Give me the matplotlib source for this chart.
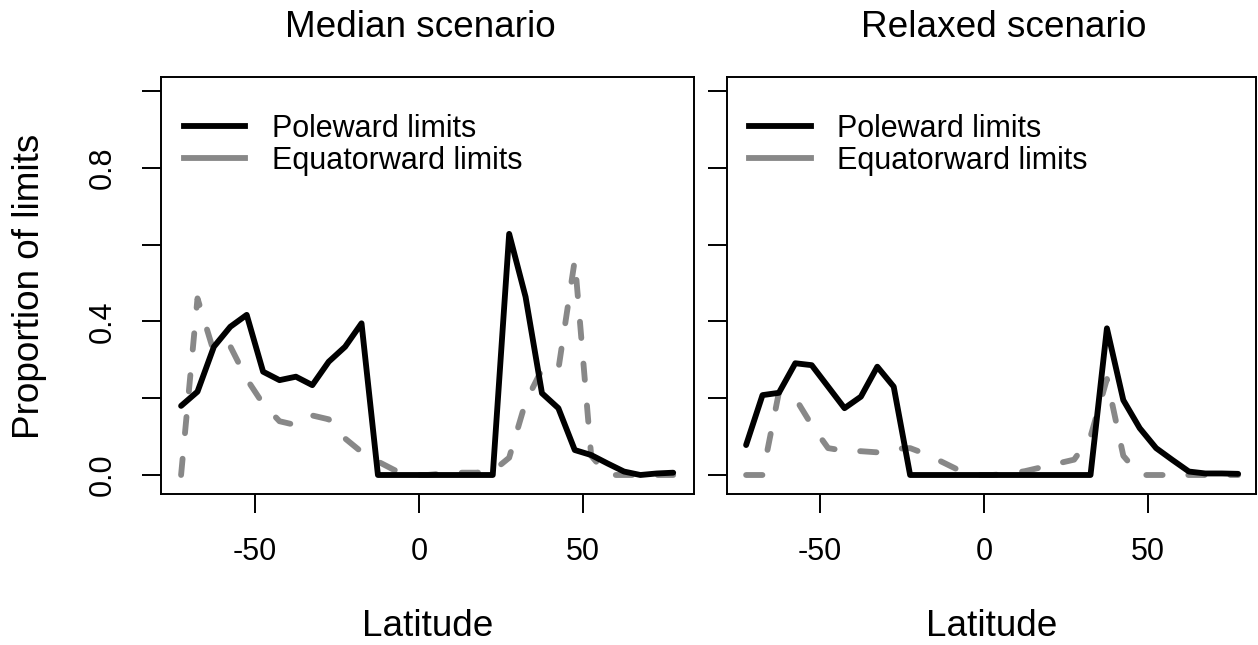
import matplotlib
matplotlib.use("Agg")
import matplotlib.pyplot as plt
from matplotlib.lines import Line2D

plt.rcParams['font.family'] = ['Liberation Sans', 'DejaVu Sans']
plt.rcParams['axes.unicode_minus'] = False

# latitude band centres
latitude = [-72.5, -67.5, -62.5, -57.5, -52.5, -47.5, -42.5, -37.5, -32.5, -27.5,
            -22.5, -17.5, -12.5, -7.5, -2.5, 2.5, 7.5, 12.5, 17.5, 22.5,
            27.5, 32.5, 37.5, 42.5, 47.5, 52.5, 57.5, 62.5, 67.5, 72.5, 77.5]

# median scenario
median_poleward = [0.18, 0.217, 0.334, 0.386, 0.417, 0.269, 0.247, 0.256, 0.234, 0.295,
                   0.334, 0.395, 0.0, 0.0, 0.0, 0.0, 0.0, 0.0, 0.0, 0.0,
                   0.628, 0.464, 0.213, 0.174, 0.065, 0.052, 0.03, 0.009, 0.0, 0.004, 0.006]
median_equatorward = [0.0, 0.46, 0.32, 0.335, 0.25, 0.185, 0.14, 0.13, 0.155, 0.145,
                      0.095, 0.06, 0.035, 0.013, 0.0, 0.0, 0.004, 0.006, 0.006, 0.01,
                      0.045, 0.19, 0.275, 0.275, 0.56, 0.05, 0.0, 0.0, 0.0, 0.0, 0.0]

# relaxed scenario
relaxed_poleward = [0.078, 0.208, 0.214, 0.291, 0.286, 0.23, 0.174, 0.204, 0.282, 0.23,
                    0.0, 0.0, 0.0, 0.0, 0.0, 0.0, 0.0, 0.0, 0.0, 0.0,
                    0.0, 0.0, 0.382, 0.195, 0.122, 0.07, 0.039, 0.009, 0.004, 0.004, 0.003]
relaxed_equatorward = [0.0, 0.0, 0.215, 0.2, 0.13, 0.07, 0.063, 0.062, 0.059, 0.068,
                       0.07, 0.054, 0.033, 0.012, 0.0, 0.0, 0.003, 0.01, 0.02, 0.03,
                       0.04, 0.1, 0.25, 0.05, 0.0, 0.0, 0.0, 0.0, 0.0, 0.0, 0.0]

titles = ["Median scenario", "Relaxed scenario"]
legend_labels = ["Poleward limits", "Equatorward limits"]
GRAY = '#888888'
LW = 4.2

fig = plt.figure(figsize=(12.58, 6.45), dpi=100)
ax1 = fig.add_axes([0.1283, 0.2335, 0.423, 0.6465])
ax2 = fig.add_axes([0.5777, 0.2335, 0.4211, 0.6465])

panels = [(ax1, median_poleward, median_equatorward, (-78.5, 83.7)),
          (ax2, relaxed_poleward, relaxed_equatorward, (-78.4, 83.1))]

for i, (ax, pole, equ, xl) in enumerate(panels):
    ax.plot(latitude, equ, color=GRAY, lw=LW, linestyle=(0, (2.8, 4.4)),
            dash_capstyle='round', solid_joinstyle='round')
    ax.plot(latitude, pole, color='black', lw=LW,
            solid_capstyle='round', solid_joinstyle='round')
    ax.set_xlim(*xl)
    ax.set_ylim(-0.0505, 1.0354)
    ax.set_xticks([-50, 0, 50])
    ax.set_xticklabels(['-50', '0', '50'])
    ax.set_yticks([0, 0.2, 0.4, 0.6, 0.8, 1.0])
    if i == 0:
        ax.set_yticklabels(['0.0', '', '0.4', '', '0.8', ''], rotation=90, va='center')
    else:
        ax.set_yticklabels([])
    ax.tick_params(axis='both', length=13.7, width=1.4, labelsize=22, direction='out')
    ax.tick_params(axis='x', pad=17)
    ax.tick_params(axis='y', pad=18)
    for s in ax.spines.values():
        s.set_linewidth(1.4)

    ax.set_xlabel("Latitude", fontsize=26.6)
    ax.xaxis.set_label_coords(0.5, -0.3396)
    ax.xaxis.label.set_verticalalignment('baseline')

    handles = [Line2D([], [], color='black', lw=LW),
               Line2D([], [], color=GRAY, lw=LW)]
    ax.legend(handles, legend_labels, loc='upper left', bbox_to_anchor=(0.0417, 0.912),
              frameon=False, fontsize=22, handlelength=2.02, handletextpad=0.88,
              labelspacing=0.06, borderpad=0, borderaxespad=0)

ax1.set_ylabel("Proportion of limits", fontsize=26.6)
ax1.yaxis.set_label_coords(-0.247, 0.5)
ax1.yaxis.label.set_verticalalignment('center')

fig.text(420.5 / 1258, 1 - 37.3 / 645, titles[0], fontsize=26.6, ha='center', va='baseline')
fig.text(1003.8 / 1258, 1 - 37.3 / 645, titles[1], fontsize=26.6, ha='center', va='baseline')

fig.savefig("out.png", dpi=100)
